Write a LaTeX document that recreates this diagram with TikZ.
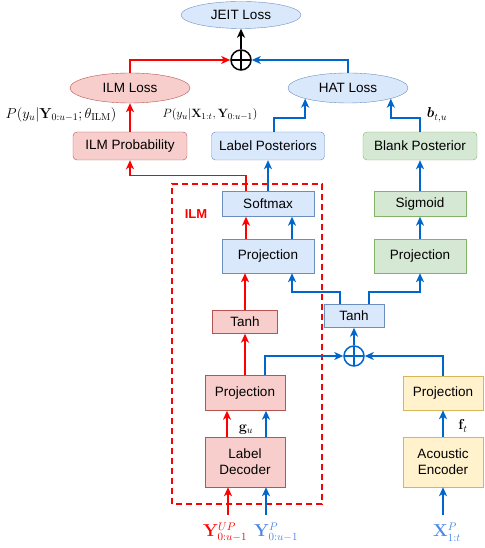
\documentclass[tikz,border=0pt]{standalone}
\usepackage[no-math]{fontspec}
\usepackage{bm}
\setmainfont{Liberation Sans}
\usetikzlibrary{arrows.meta,shapes.geometric}

\definecolor{redfill}{HTML}{F8CECC}
\definecolor{reddraw}{HTML}{B85450}
\definecolor{bluefill}{HTML}{DAE8FC}
\definecolor{bluedraw}{HTML}{6C8EBF}
\definecolor{greenfill}{HTML}{D5E8D4}
\definecolor{greendraw}{HTML}{82B366}
\definecolor{yellowfill}{HTML}{FFF2CC}
\definecolor{yellowdraw}{HTML}{D6B656}
\definecolor{linkblue}{HTML}{0066CC}
\definecolor{inblue}{HTML}{4A86E8}

\tikzset{
    box/.style={draw, rectangle, inner sep=0pt, font=\fontsize{13.5}{16}\selectfont, align=center},
    redbox/.style={box, fill=redfill, draw=reddraw},
    bluebox/.style={box, fill=bluefill, draw=bluedraw},
    greenbox/.style={box, fill=greenfill, draw=greendraw},
    yellowbox/.style={box, fill=yellowfill, draw=yellowdraw},
    lossnode/.style={ellipse, draw, inner sep=0pt, minimum width=120pt, minimum height=30pt, font=\fontsize{13.5}{16}\selectfont},
    oplus/.style={circle, draw, line width=1.5pt, minimum size=20pt, inner sep=0pt,
        path picture={\draw[line width=1.5pt] (path picture bounding box.north) -- (path picture bounding box.south)
            (path picture bounding box.west) -- (path picture bounding box.east);}},
    tip/.style={-{Stealth[length=9pt,width=8pt,inset=2.5pt]}},
    redarr/.style={tip, draw=red, line width=1.5pt},
    bluearr/.style={tip, draw=linkblue, line width=1.5pt},
    blackarr/.style={tip, draw=black, line width=1.5pt},
    mathlbl/.style={inner sep=0pt, font=\fontsize{13}{15}\selectfont},
    inlbl/.style={inner sep=0pt, font=\fontsize{16}{18}\selectfont}
}

\begin{document}
\begin{tikzpicture}[x=1pt,y=1pt]
    \useasboundingbox (0,0) rectangle (484,548);

    % losses
    \node[lossnode, fill=bluefill, draw=bluedraw, minimum height=27pt] (jeit) at (241,533) {JEIT Loss};
    \node[oplus] (plustop) at (241,488) {};
    \node[lossnode, fill=redfill, draw=reddraw] (ilmloss) at (130,460) {ILM Loss};
    \node[lossnode, fill=bluefill, draw=bluedraw] (hatloss) at (348,460) {HAT Loss};

    % output boxes
    \node[redbox, minimum width=114pt, minimum height=28pt, rounded corners=4pt] (ilmprob) at (130,402) {ILM Probability};
    \node[bluebox, minimum width=113pt, minimum height=28pt, rounded corners=4pt] (labpost) at (268,402) {Label Posteriors};
    \node[greenbox, minimum width=114pt, minimum height=28pt, rounded corners=4pt] (blankpost) at (420,402) {Blank Posterior};

    \node[mathlbl, font=\fontsize{14}{16}\selectfont] (pilm) at (61,433) {$P(y_u|\mathbf{Y}_{0:u-1};\theta_{\mathrm{ILM}})$};
    \node[mathlbl] (phat) at (210,433) {$P(y_u|\mathbf{X}_{1:t},\mathbf{Y}_{0:u-1})$};
    \node[mathlbl, font=\fontsize{14}{16}\selectfont] (pblank) at (437,433) {$\bm{b}_{t,u}$};

    % ILM block
    \draw[red, line width=1.5pt, dash pattern=on 6pt off 4pt] (172,44) rectangle (322,364);
    \node[text=red, font=\fontsize{13}{15}\selectfont\bfseries] (ilmtag) at (196,334) {ILM};

    \node[bluebox, minimum width=92pt, minimum height=25pt] (softmax) at (268,344) {Softmax};
    \node[bluebox, minimum width=92pt, minimum height=34pt] (projb) at (268,292) {Projection};
    \node[redbox, minimum width=65pt, minimum height=23pt] (tanhr) at (245,226) {Tanh};
    \node[redbox, minimum width=80pt, minimum height=35pt] (projr) at (245,155) {Projection};
    \node[redbox, minimum width=80pt, minimum height=50pt] (labdec) at (245,86) {Label\\Decoder};

    % blank branch
    \node[greenbox, minimum width=92pt, minimum height=25pt] (sigmoid) at (420,344) {Sigmoid};
    \node[greenbox, minimum width=92pt, minimum height=34pt] (projg) at (420,292) {Projection};

    % joint / encoder
    \node[bluebox, minimum width=60pt, minimum height=23pt] (tanhb) at (354,232) {Tanh};
    \node[oplus, draw=linkblue, path picture={\draw[line width=1.5pt, linkblue] (path picture bounding box.north) -- (path picture bounding box.south)
            (path picture bounding box.west) -- (path picture bounding box.east);}] (plusb) at (354,192) {};
    \node[yellowbox, minimum width=80pt, minimum height=34pt] (projy) at (443,155) {Projection};
    \node[yellowbox, minimum width=80pt, minimum height=50pt] (acenc) at (443,86) {Acoustic\\Encoder};

    % inputs
    \coordinate (inup) at (228,33);
    \coordinate (inp) at (266,33);
    \coordinate (inx) at (443,33);
    \node[inlbl, text=red] (yup) at (225,16) {$\mathbf{Y}^{UP}_{0:u-1}$};
    \node[inlbl, text=inblue] (yp) at (276,16) {$\mathbf{Y}^{P}_{0:u-1}$};
    \node[inlbl, text=inblue] (xp) at (447,16) {$\mathbf{X}^{P}_{1:t}$};

    % connectors
    \draw[blackarr] (plustop) -- (jeit);
    \draw[redarr] (ilmloss.north) |- (plustop.west);
    \draw[bluearr] (hatloss.north) |- (plustop.east);
    \draw[redarr] (ilmprob) -- (ilmloss);
    \draw[bluearr] ([xshift=6pt]labpost.north) -- ++(0,14) -| (hatloss.194);
    \draw[bluearr] (blankpost.north) -- ++(0,14) -| (hatloss.346);

    \draw[redarr] ([xshift=-22pt]softmax.north) -- ++(0,16) -| (ilmprob.south);
    \draw[bluearr] (softmax) -- (labpost);
    \draw[redarr] ([xshift=-22pt]projb.north) -- ([xshift=-22pt]softmax.south);
    \draw[bluearr] ([xshift=24pt]projb.north) -- ([xshift=24pt]softmax.south);
    \draw[redarr] (tanhr.north) -- (tanhr.north |- projb.south);
    \draw[redarr] (projr) -- (tanhr);
    \draw[bluearr] ([xshift=20pt]projr.north) |- (plusb.west);
    \draw[redarr] ([xshift=-18pt]labdec.north) -- ([xshift=-18pt]projr.south);
    \draw[bluearr] ([xshift=21pt]labdec.north) -- ([xshift=21pt]projr.south);
    \node[mathlbl, font=\fontsize{14}{16}\selectfont] (gu) at (246,118) {$\mathbf{g}_u$};
    \draw[redarr] (inup) -- (inup |- labdec.south);
    \draw[bluearr] (inp) -- (inp |- labdec.south);

    \draw[bluearr] (inx) -- (acenc);
    \draw[bluearr] (acenc) -- (projy);
    \node[mathlbl, font=\fontsize{14}{16}\selectfont] (ft) at (463,122) {$\mathbf{f}_t$};
    \draw[bluearr] (projy.north) |- (plusb.east);
    \draw[bluearr] (plusb) -- (tanhb);
    \draw[bluearr] ([xshift=-14pt]tanhb.north) -- ++(0,12.5) -| ([xshift=24pt]projb.south);
    \draw[bluearr] ([xshift=15pt]tanhb.north) -- ++(0,12.5) -| (projg.south);
    \draw[bluearr] (projg) -- (sigmoid);
    \draw[bluearr] (sigmoid) -- (blankpost);
\end{tikzpicture}
\end{document}
